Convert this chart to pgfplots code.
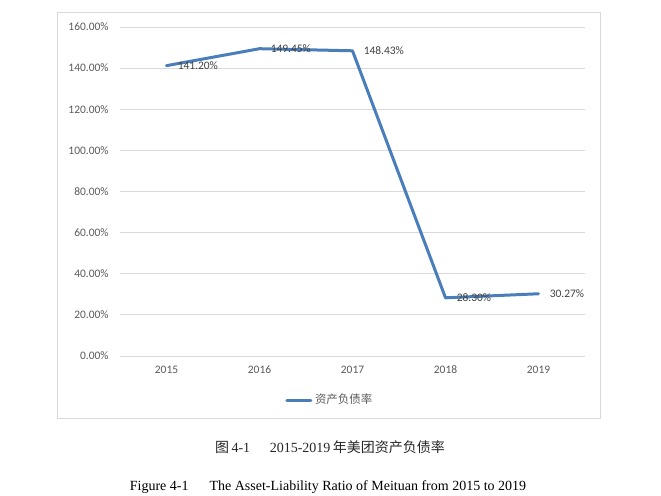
\documentclass[border=0pt]{standalone}
\usepackage{pgfplots}
\pgfplotsset{compat=1.18}
\usepackage{fontspec}
\setmainfont{Carlito}
\newfontfamily\cjk{Noto Sans CJK SC}
\newfontfamily\serif{Liberation Serif}
\definecolor{lineblue}{RGB}{74,126,187}
\definecolor{gridgray}{RGB}{217,217,217}
\definecolor{ticktext}{RGB}{89,89,89}
\definecolor{labeltext}{RGB}{64,64,64}
\begin{document}
\begin{tikzpicture}[x=0.75pt,y=-0.75pt]
\useasboundingbox (0,0) rectangle (661,496);
\draw[gridgray,line width=0.75pt] (57,12) rectangle (600,418);
\begin{axis}[
  at={(90pt,-267pt)},anchor=south west,
  scale only axis,width=348.75pt,height=246.75pt,
  xmin=-0.5,xmax=4.5,ymin=0,ymax=160,
  xtick={0,1,2,3,4},xticklabels={2015,2016,2017,2018,2019},
  ytick={0,20,40,60,80,100,120,140,160},
  yticklabels={0.00\%,20.00\%,40.00\%,60.00\%,80.00\%,100.00\%,120.00\%,140.00\%,160.00\%},
  axis line style={draw=none},major tick length=0pt,
  ymajorgrids,grid style={gridgray,line width=0.75pt},
  tick label style={font=\fontsize{8.6}{10}\selectfont,text=ticktext},
  yticklabel style={xshift=-5pt},
  xticklabel style={yshift=-4pt},
  clip=false,
  legend style={at={(0.452,-0.134)},anchor=center,draw=none,fill=none,
    font=\fontsize{8.6}{10}\selectfont\cjk,text=ticktext},
  legend image code/.code={\draw[lineblue,line width=2.25pt,line cap=round] (0pt,0pt) -- (18pt,0pt);},
]
\addplot[lineblue,line width=2.25pt,line join=round,line cap=round,
  point meta=explicit symbolic,nodes near coords,
  nodes near coords style={anchor=west,xshift=4pt,font=\fontsize{8.6}{10}\selectfont,text=labeltext}]
  coordinates {(0,141.20)[141.20\%] (1,149.45)[149.45\%] (2,148.43)[148.43\%] (3,28.30)[28.30\%] (4,30.27)[30.27\%]};
\addlegendentry{资产负债率}
\end{axis}
\node[font=\fontsize{10.5}{12}\selectfont,text=black!85] at (330,447) {{\cjk 图}\,{\serif 4-1}\hspace{1.4em}{\serif 2015-2019}\,{\cjk 年美团资产负债率}};
\node[font=\serif\fontsize{10.5}{12}\selectfont] at (328,487) {Figure 4-1\hspace{1.5em}The Asset-Liability Ratio of Meituan from 2015 to 2019};
\end{tikzpicture}
\end{document}
